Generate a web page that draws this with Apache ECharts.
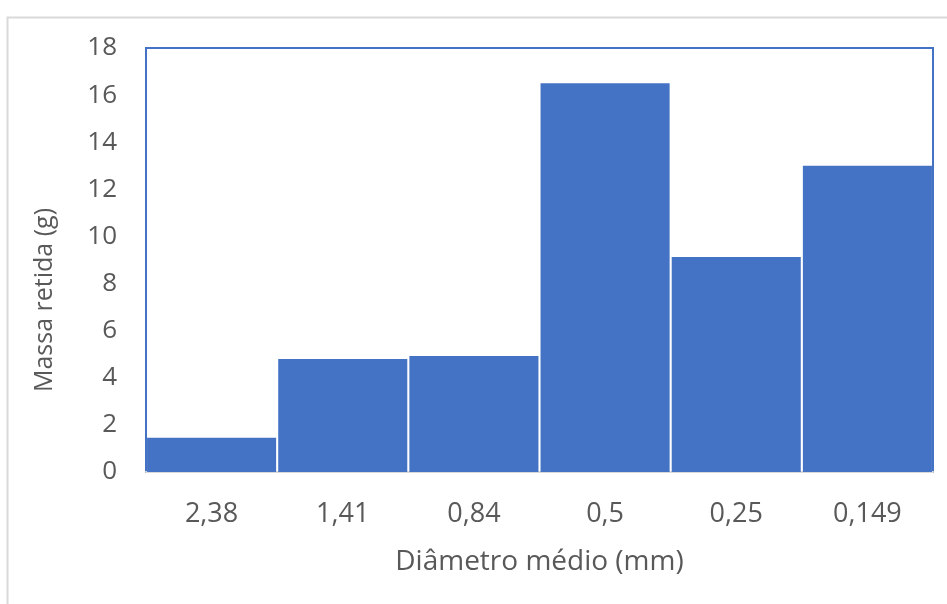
<!DOCTYPE html>
<html>
<head>
<meta charset="utf-8">
<script src="https://cdn.jsdelivr.net/npm/echarts@6/dist/echarts.min.js"></script>
<style>
  html, body { margin: 0; padding: 0; background: #fff; }
  #chart { width: 947px; height: 604px; }
</style>
</head>
<body>
<div id="chart"></div>
<script>
// Retained mass per mean sieve diameter
const diameters = ['2,38', '1,41', '0,84', '0,5', '0,25', '0,149'];
const retainedMass = [1.45, 4.8, 4.92, 16.5, 9.13, 13.0];
const yTicks = { min: 0, max: 18, interval: 2 };

const FONT = 'Open Sans';
const TEXT = '#595959';
const BLUE = '#4472C4';

const chart = echarts.init(document.getElementById('chart'), null, { renderer: 'canvas' });

chart.setOption({
  backgroundColor: '#ffffff',
  animation: false,
  textStyle: { fontFamily: FONT },
  graphic: [
    {
      // outer frame of the chart area
      type: 'rect',
      left: 5, top: 15,
      shape: { width: 960, height: 620 },
      style: { fill: 'none', stroke: '#D9D9D9', lineWidth: 2 },
      silent: true
    },
    {
      type: 'text',
      rotation: Math.PI / 2,
      style: {
        text: 'Massa retida (g)',
        fill: TEXT,
        font: '25px "' + FONT + '"',
        align: 'center',
        verticalAlign: 'middle'
      },
      x: 45, y: 300
    }
  ],
  grid: {
    left: 146, top: 48, right: 14, bottom: 132,
    show: true,
    borderColor: BLUE,
    borderWidth: 2,
    containLabel: false
  },
  xAxis: {
    type: 'category',
    data: diameters,
    name: 'Diâmetro médio (mm)',
    nameLocation: 'middle',
    nameGap: 76,
    nameTextStyle: { color: TEXT, fontSize: 28, fontFamily: FONT },
    axisLine: { show: true, lineStyle: { color: '#D9D9D9', width: 2 } },
    axisTick: { show: false },
    axisLabel: { color: TEXT, fontSize: 27, margin: 29, fontFamily: FONT },
    splitLine: { show: false }
  },
  yAxis: {
    type: 'value',
    min: yTicks.min, max: yTicks.max, interval: yTicks.interval,
    axisLine: { show: false },
    axisTick: { show: false },
    axisLabel: { color: TEXT, fontSize: 26, margin: 29, fontFamily: FONT },
    splitLine: { show: false }
  },
  series: [{
    type: 'bar',
    data: retainedMass,
    barCategoryGap: '1.6%',
    itemStyle: { color: BLUE },
    silent: true
  }]
});
</script>
</body>
</html>
